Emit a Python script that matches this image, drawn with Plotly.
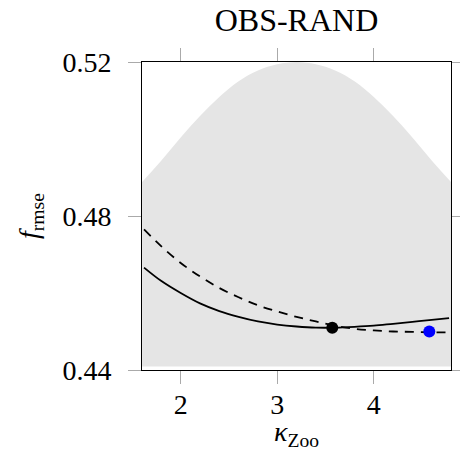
import plotly.graph_objects as go

# Band (upper edge) and lower edge
band_x = [1.6, 1.8, 2.0, 2.2, 2.4, 2.6, 2.8, 3.0, 3.2, 3.4, 3.6, 3.8, 4.0, 4.2, 4.4, 4.6, 4.8]
band_upper = [0.4888, 0.4944, 0.5004, 0.5060, 0.5109, 0.5150, 0.5178, 0.5194, 0.5200,
              0.5194, 0.5178, 0.5150, 0.5109, 0.5060, 0.5004, 0.4944, 0.4888]
band_lower = [0.4409] * len(band_x)

# Solid curve
solid_x = [1.62, 1.8, 2.0, 2.2, 2.4, 2.6, 2.8, 3.0, 3.2, 3.4, 3.6, 3.8, 4.0, 4.2, 4.4, 4.6, 4.78]
solid_y = [0.4666, 0.4631, 0.4600, 0.4573, 0.4553, 0.4538, 0.4526, 0.4518, 0.4513, 0.4510,
           0.4510, 0.4512, 0.4515, 0.4520, 0.4525, 0.4530, 0.4535]

# Dashed curve
dash_x = [1.62, 1.8, 2.0, 2.2, 2.4, 2.6, 2.8, 3.0, 3.2, 3.4, 3.6, 3.8, 4.0, 4.2, 4.4, 4.6, 4.78]
dash_y = [0.4765, 0.4721, 0.4678, 0.4643, 0.4613, 0.4589, 0.4568, 0.4552, 0.4538, 0.4526,
          0.4515, 0.4507, 0.4503, 0.4500, 0.4499, 0.4498, 0.4498]

# Markers
best_solid = (3.57, 0.4510)
best_dash = (4.575, 0.4500)

x_ticks = [2, 3, 4]
y_ticks = [0.44, 0.48, 0.52]
y_tick_text = ["0.44", "0.48", "0.52"]

FONT = "Liberation Serif"

fig = go.Figure()
fig.add_trace(go.Scatter(x=band_x, y=band_lower, mode="lines", line=dict(width=0, shape="spline"),
                         showlegend=False, hoverinfo="skip"))
fig.add_trace(go.Scatter(x=band_x, y=band_upper, mode="lines", line=dict(width=0, shape="spline"),
                         fill="tonexty", fillcolor="#e5e5e5", showlegend=False, hoverinfo="skip"))
fig.add_trace(go.Scatter(x=dash_x, y=dash_y, mode="lines",
                         line=dict(color="black", width=1.8, dash="9px,7px", shape="spline"),
                         showlegend=False))
fig.add_trace(go.Scatter(x=solid_x, y=solid_y, mode="lines",
                         line=dict(color="black", width=1.8, shape="spline"),
                         showlegend=False))
fig.add_trace(go.Scatter(x=[best_solid[0]], y=[best_solid[1]], mode="markers",
                         marker=dict(color="black", size=12), showlegend=False))
fig.add_trace(go.Scatter(x=[best_dash[0]], y=[best_dash[1]], mode="markers",
                         marker=dict(color="#0000ff", size=12), showlegend=False))

axis_common = dict(showline=True, linecolor="black", linewidth=1, mirror="ticks",
                   ticks="outside", ticklen=13, tickcolor="#aaaaaa", tickwidth=1,
                   showgrid=False, zeroline=False, automargin=False,
                   tickfont=dict(family=FONT, size=28, color="black"))

fig.update_layout(
    width=460, height=451,
    margin=dict(l=142, r=9, t=62, b=81),
    paper_bgcolor="white", plot_bgcolor="white",
    title=dict(text="OBS-RAND", x=0.6445, xanchor="center", y=0.955, yanchor="middle",
               font=dict(family=FONT, size=32, color="black")),
    xaxis=dict(range=[1.599, 4.8], tickvals=x_ticks, ticktext=[str(t) for t in x_ticks],
               ticklabelstandoff=-4,
               title=dict(text="<i>κ</i><sub>Zoo</sub>", font=dict(family=FONT, size=28, color="black")),
               **axis_common),
    yaxis=dict(range=[0.44, 0.52], tickvals=y_ticks, ticktext=y_tick_text,
               ticklabelstandoff=11,
               title=dict(text="<i>f</i><sub>rmse</sub>", font=dict(family=FONT, size=28, color="black")),
               **axis_common),
)

fig.write_html("out.html")
